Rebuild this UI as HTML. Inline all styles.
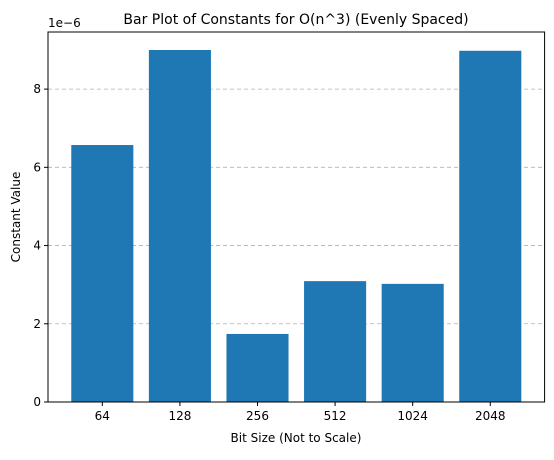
<!DOCTYPE html>
<html><head><meta charset="utf-8"><style>
body{margin:0;background:#fff;}
svg text{font-family:"DejaVu Sans","Liberation Sans",sans-serif;fill:#000;}
</style></head><body>
<svg id="chart" width="554" height="455" xmlns="http://www.w3.org/2000/svg">
<rect width="554" height="455" fill="#fff"/>
<g id="grid"></g><g id="bars"></g><g id="axes"></g>
<text x="296" y="24" font-size="14" text-anchor="middle">Bar Plot of Constants for O(n^3) (Evenly Spaced)</text>
<text x="296" y="442" font-size="12" text-anchor="middle">Bit Size (Not to Scale)</text>
<text x="20" y="217" font-size="12" text-anchor="middle" transform="rotate(-90 20 217)">Constant Value</text>
<text x="48" y="27" font-size="12">1e−6</text>
</svg>
<script>
const categories=["64","128","256","512","1024","2048"];
const values=[6.57,9.0,1.74,3.09,3.02,8.98];
const yTicks=[0,2,4,6,8];
const L=48,R=544.6,T=32,B=402,ymax=9.46,xmin=-0.7,xmax=5.7;
const ns="http://www.w3.org/2000/svg";
function xs(i){return L+(i-xmin)/(xmax-xmin)*(R-L);}
function ys(v){return B-v/ymax*(B-T);}
function mk(tag,attrs,parent){const e=document.createElementNS(ns,tag);for(const k in attrs)e.setAttribute(k,attrs[k]);document.getElementById(parent).appendChild(e);return e;}
yTicks.forEach(v=>{
 if(v>0){const g=mk("line",{x1:L,x2:R,y1:ys(v),y2:ys(v),stroke:"#b0b0b0","stroke-dasharray":"4,3","stroke-width":0.8},"grid");
 
 }
 const t=mk("line",{x1:L-4,x2:L,y1:ys(v),y2:ys(v),stroke:"#000"},"axes");
 
 
 const tx=mk("text",{x:L-7,y:ys(v)+4,"font-size":12,"text-anchor":"end"},"axes");tx.textContent=v;
 
 
});
const bw=0.8*(xs(1)-xs(0));
categories.forEach((c,i)=>{
 const r=mk("rect",{x:xs(i)-bw/2,y:ys(values[i]),width:bw,height:B-ys(values[i]),fill:"#1f77b4"},"bars");
 
 
 const t=mk("line",{x1:xs(i),x2:xs(i),y1:B,y2:B+4,stroke:"#000"},"axes");
 
 
 const tx=mk("text",{x:xs(i),y:B+18,"font-size":12,"text-anchor":"middle"},"axes");tx.textContent=c;
 
 
});
const f=mk("rect",{x:L,y:T,width:R-L,height:B-T,fill:"none",stroke:"#000","stroke-width":1},"axes");


</script>
</body></html>
